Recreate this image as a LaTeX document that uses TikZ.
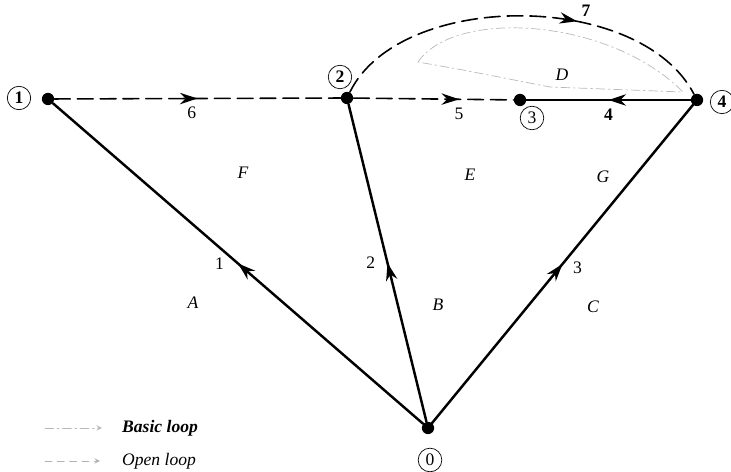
\documentclass[tikz,border=0pt]{standalone}
\usepackage{fontspec}
\setmainfont{Liberation Serif}
\usetikzlibrary{arrows.meta,decorations.markings}
\tikzset{
  dot/.style={circle, fill, inner sep=0pt, minimum size=7pt},
  circ/.style={circle, draw, thin, inner sep=1.8pt},
  branch/.style={line width=1.4pt},
  openloop/.style={line width=.9pt, dash pattern=on 9pt off 4pt},
  basicloop/.style={gray!55, thin, dash pattern=on 5pt off 2pt on 1pt off 2pt},
  region/.style={font=\itshape},
  midarrow/.style={postaction={decorate}, decoration={markings, mark=at position #1 with {\arrow{Stealth[length=10pt,width=6.5pt]}}}},
}
\begin{document}
\begin{tikzpicture}[x=0.02cm, y=-0.02cm, line cap=round, line join=round, >=stealth]
  \useasboundingbox (0,0) rectangle (731,472);
  % junctions
  \foreach \nm/\px/\py in {0/428/428, 1/48/99, 2/347/98, 3/520/100, 4/697/100}
    \node[dot] (n\nm) at (\px,\py) {};
  \foreach \nm/\px/\py/\lbl in {0/430/460/0, 1/19/98/\bfseries 1, 2/340/77/\bfseries 2, 3/532/118/3, 4/722/102/\bfseries 4}
    \node[circ] (c\nm) at (\px,\py) {\lbl};
  % branches
  \draw[branch, midarrow=.5] (n0) -- (n1) node[pos=.5, left=4pt] {1};
  \draw[branch, midarrow=.5] (n0) -- (n2) node[pos=.5, left=3pt] {2};
  \draw[branch, midarrow=.5] (n0) -- (n4) node[pos=.5, right=2pt, yshift=-2pt] {3};
  \draw[branch, midarrow=.5] (n4) -- (n3) node[pos=.5, below=1pt] {\bfseries 4};
  \draw[openloop, midarrow=.5] (n1) -- (n2) node[pos=.48, below=1pt] {6};
  \draw[openloop, midarrow=.66] (n2) -- (n3) node[pos=.66, below=1pt] {5};
  \draw[openloop, midarrow=.64] (n2) .. controls (400,-10) and (640,-10) .. (n4)
    node[pos=.63, above right=-1pt] {\bfseries 7};
  % basic loop D
  \draw[basicloop] (418,62) .. controls (455,8) and (610,18) .. (683,92) -- (550,87) -- (463,70) -- cycle;
  % meshes
  \foreach \px/\py/\lbl in {243/173/F, 470/175/E, 603/177/G, 562/75/D, 193/303/A, 438/305/B, 593/307/C}
    \node[region] at (\px,\py) {\lbl};
  % legend
  \coordinate (bl) at (45,428);
  \coordinate (br) at (102,428);
  \coordinate (ol) at (45,461);
  \coordinate (or) at (100,461);
  \draw[basicloop, ->] (bl) -- (br);
  \draw[gray!60, thin, dash pattern=on 4pt off 3pt, ->] (ol) -- (or);
  \node[right, font=\itshape\bfseries] (basic) at (116,428) {Basic loop};
  \node[right, font=\itshape] (open) at (116,461) {Open loop};
\end{tikzpicture}
\end{document}
